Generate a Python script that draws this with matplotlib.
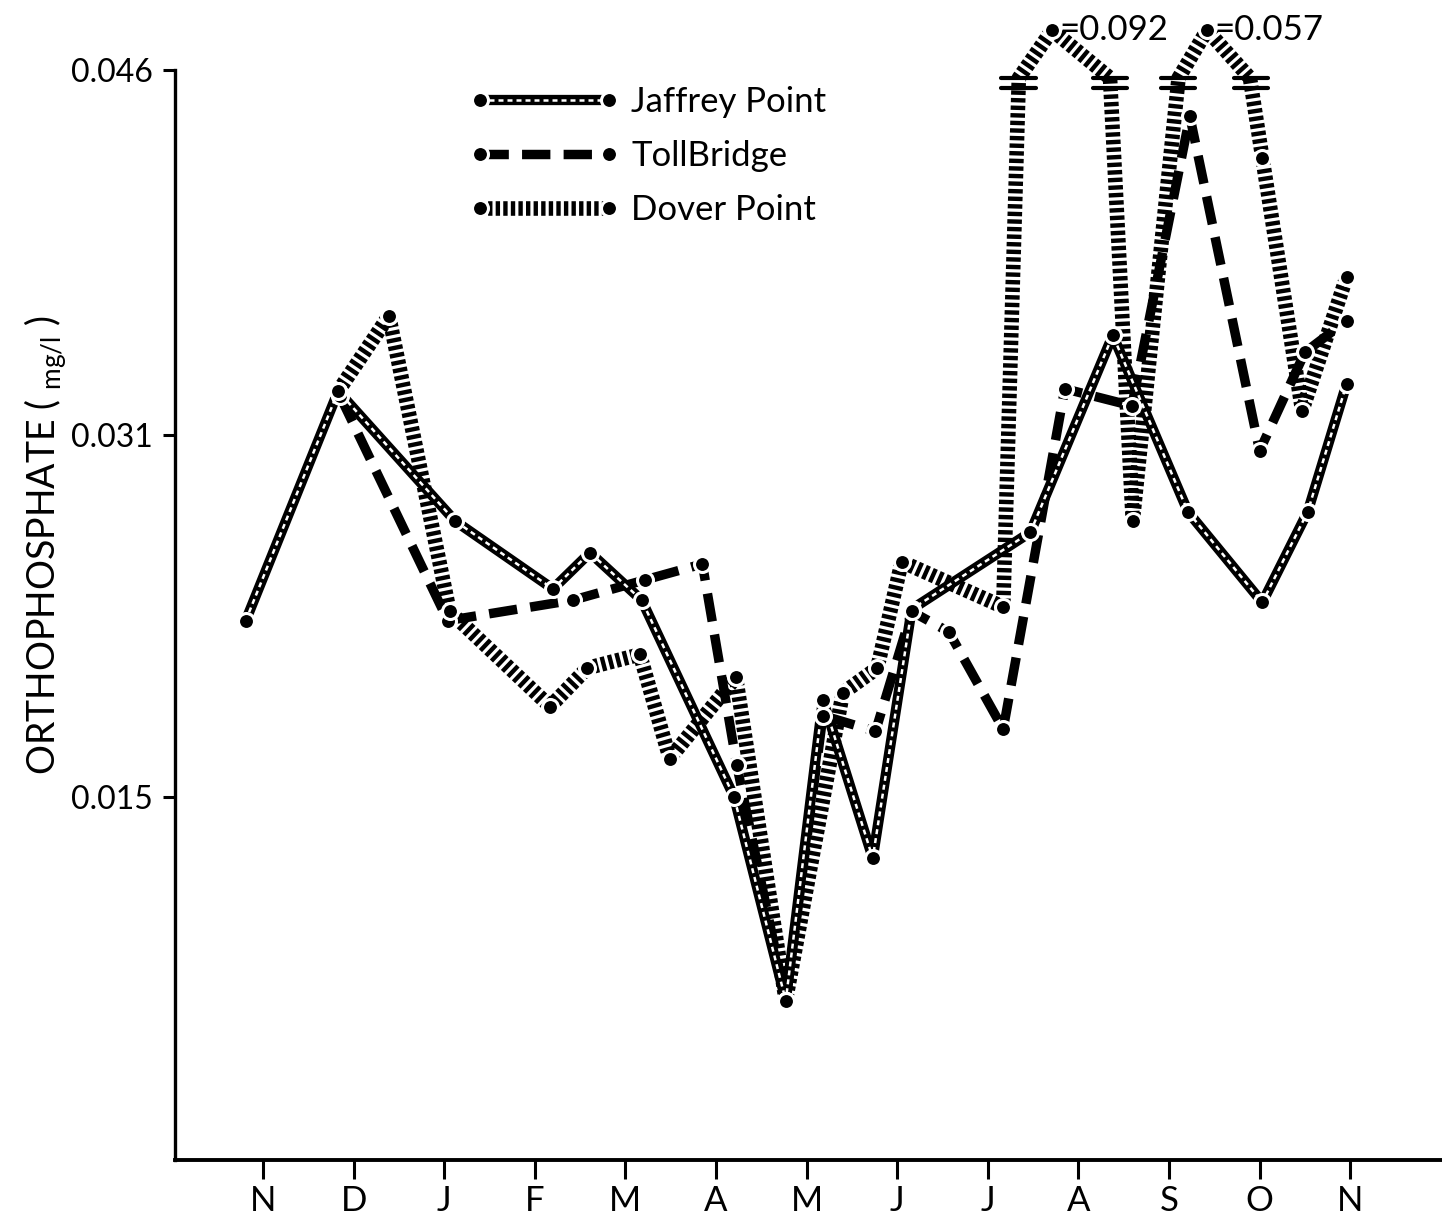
import numpy as np
import matplotlib.pyplot as plt
from matplotlib.lines import Line2D
from matplotlib.legend_handler import HandlerTuple
from matplotlib.ticker import NullLocator

plt.rcParams['font.family'] = ['Lato', 'DejaVu Sans']
plt.rcParams['mathtext.fontset'] = 'custom'
plt.rcParams['mathtext.rm'] = 'Lato'

# months from November to the following November
months = ['N', 'D', 'J', 'F', 'M', 'A', 'M', 'J', 'J', 'A', 'S', 'O', 'N']

# orthophosphate (mg/l), x = month position (0 = first N)
jaffrey_x = [-0.19, 0.83, 2.12, 3.20, 3.61, 4.18, 5.20, 5.77, 6.18, 6.73, 7.16,
             8.47, 9.38, 10.21, 11.03, 11.53, 11.96]
jaffrey_y = [0.0228, 0.0328, 0.0272, 0.0242, 0.0258, 0.0237, 0.0150, 0.0060,
             0.0193, 0.0123, 0.0233, 0.0267, 0.0351, 0.0276, 0.0236, 0.0276, 0.0331]

toll_x = [0.85, 2.04, 3.42, 4.22, 4.85, 5.23, 5.77, 6.18, 6.76, 7.16, 7.57,
          8.17, 8.85, 9.59, 10.23, 11.00, 11.50, 11.96]
toll_y = [0.0326, 0.0228, 0.0237, 0.0246, 0.0253, 0.0164, 0.0060, 0.0186,
          0.0179, 0.0232, 0.0223, 0.0180, 0.0329, 0.0322, 0.0441, 0.0303,
          0.0344, 0.0357]

dover_x = [0.83, 1.39, 2.06, 3.17, 3.58, 4.16, 4.49, 5.22, 5.77, 6.40, 6.78,
           7.05, 8.17, 8.71, 9.60, 10.42, 11.03, 11.47, 11.96]
dover_y = [0.0328, 0.0359, 0.0232, 0.0190, 0.0207, 0.0213, 0.0167, 0.0203,
           0.0060, 0.0196, 0.0207, 0.0254, 0.0234, 0.092, 0.0272, 0.057,
           0.0424, 0.0320, 0.0375]

y_ticks = [0.015, 0.031, 0.046]

# the original axis is not evenly spaced between its labels:
# piecewise linear scale through the labelled ticks
VK = [-0.1, 0.015, 0.031, 0.046, 0.2]
PK = [-2238.9, 363.0, 725.0, 1090.0, 4837.3]


def fwd(v):
    return np.interp(v, VK, PK)


def inv(h):
    return np.interp(h, PK, VK)


cap = 0.04764          # off-scale peaks drawn here
brk_lo, brk_hi = 0.04526, 0.04567   # axis break bars

fig = plt.figure(figsize=(14.42, 12.32), dpi=100)
ax = fig.add_axes([175 / 1442, 72 / 1232, 1267 / 1442, 1160 / 1232])
ax.set_yscale('function', functions=(fwd, inv))

mk = dict(marker='o', ms=11.5, mfc='black', mec='white', mew=2.2, ls='none', zorder=6)

# Jaffrey Point: outlined solid line
ax.plot(jaffrey_x, jaffrey_y, color='black', lw=7.4, solid_joinstyle='round', zorder=4)
ax.plot(jaffrey_x, jaffrey_y, color='white', lw=1.8, dashes=(2.0, 1.6), zorder=4.1)
ax.plot(jaffrey_x, jaffrey_y, **mk)

# Toll Bridge: heavy dashes
ax.plot(toll_x, toll_y, color='black', lw=6.8, dashes=(3.0, 1.4), zorder=3)
ax.plot(toll_x, toll_y, **mk)


# Dover Point: ladder-dotted line with broken off-scale peaks
def cross(x0, v0, x1, v1, level):
    t = (fwd(level) - fwd(v0)) / (fwd(v1) - fwd(v0))
    return x0 + t * (x1 - x0)


px, py, breaks = [], [], []
for i, (x, v) in enumerate(zip(dover_x, dover_y)):
    if v <= cap:
        px.append(x)
        py.append(v)
        continue
    xp, vp = dover_x[i - 1], dover_y[i - 1]
    xn, vn = dover_x[i + 1], dover_y[i + 1]
    a_lo, a_hi = cross(xp, vp, x, v, brk_lo), cross(xp, vp, x, v, brk_hi)
    b_lo, b_hi = cross(xn, vn, x, v, brk_lo), cross(xn, vn, x, v, brk_hi)
    px += [a_lo, a_hi, x, b_hi, b_lo]
    py += [brk_lo, brk_hi, cap, brk_hi, brk_lo]
    breaks += [(a_lo + a_hi) / 2, (b_lo + b_hi) / 2]
    ax.annotate(f'={v:.3f}', xy=(x, cap), xytext=(5, 0), textcoords='offset points',
                ha='left', va='center', fontsize=25)

ax.plot(px, py, color='black', lw=10.5, dashes=(0.3, 0.22), zorder=2)
ax.plot(dover_x, np.minimum(dover_y, cap), **mk)

hw = 0.19
for xb in breaks:
    for lev in (brk_lo, brk_hi):
        ax.plot([xb - hw, xb + hw], [lev, lev], color='black', lw=3,
                solid_capstyle='round', zorder=5)

# axes
ax.set_xlim(-0.971, 13.013)
ax.set_ylim(inv(0), inv(1160))
ax.set_xticks(range(len(months)), labels=months)
ax.set_yticks(y_ticks, labels=[f'{t:.3f}' for t in y_ticks])
ax.yaxis.set_minor_locator(NullLocator())
ax.tick_params(axis='y', direction='out', length=9, width=2.2, pad=7, labelsize=23)
ax.tick_params(axis='x', direction='out', length=14, width=2.2, pad=4, labelsize=25)
for s in ['top', 'right']:
    ax.spines[s].set_visible(False)
ax.spines['left'].set_linewidth(2.4)
ax.spines['bottom'].set_linewidth(2.8)
ax.spines['left'].set_bounds(inv(0), 0.046)

ax.set_ylabel(r'ORTHOPHOSPHATE ( $_{\mathrm{mg/l}}$ )', fontsize=27)
ax.yaxis.set_label_coords(-0.084, 0.53)

# legend
h_j = (Line2D([], [], color='black', lw=7.4),
       Line2D([], [], color='white', lw=1.8, dashes=(2.0, 1.6)),
       Line2D([], [], **mk))
h_t = (Line2D([], [], color='black', lw=6.8, dashes=(3.0, 1.4)),
       Line2D([], [], **mk))
h_d = (Line2D([], [], color='black', lw=10.5, dashes=(0.3, 0.22)),
       Line2D([], [], **mk))
ax.legend([h_j, h_t, h_d], ['Jaffrey Point', 'TollBridge', 'Dover Point'],
          handler_map={tuple: HandlerTuple(ndivide=1)},
          loc='upper left', bbox_to_anchor=(470 / 1442, 1 - 86 / 1232),
          bbox_transform=fig.transFigure, frameon=False, fontsize=25,
          handlelength=4.3, handletextpad=0.35, labelspacing=0.64,
          borderpad=0, borderaxespad=0, numpoints=2)

fig.savefig('out.png', dpi=100)
